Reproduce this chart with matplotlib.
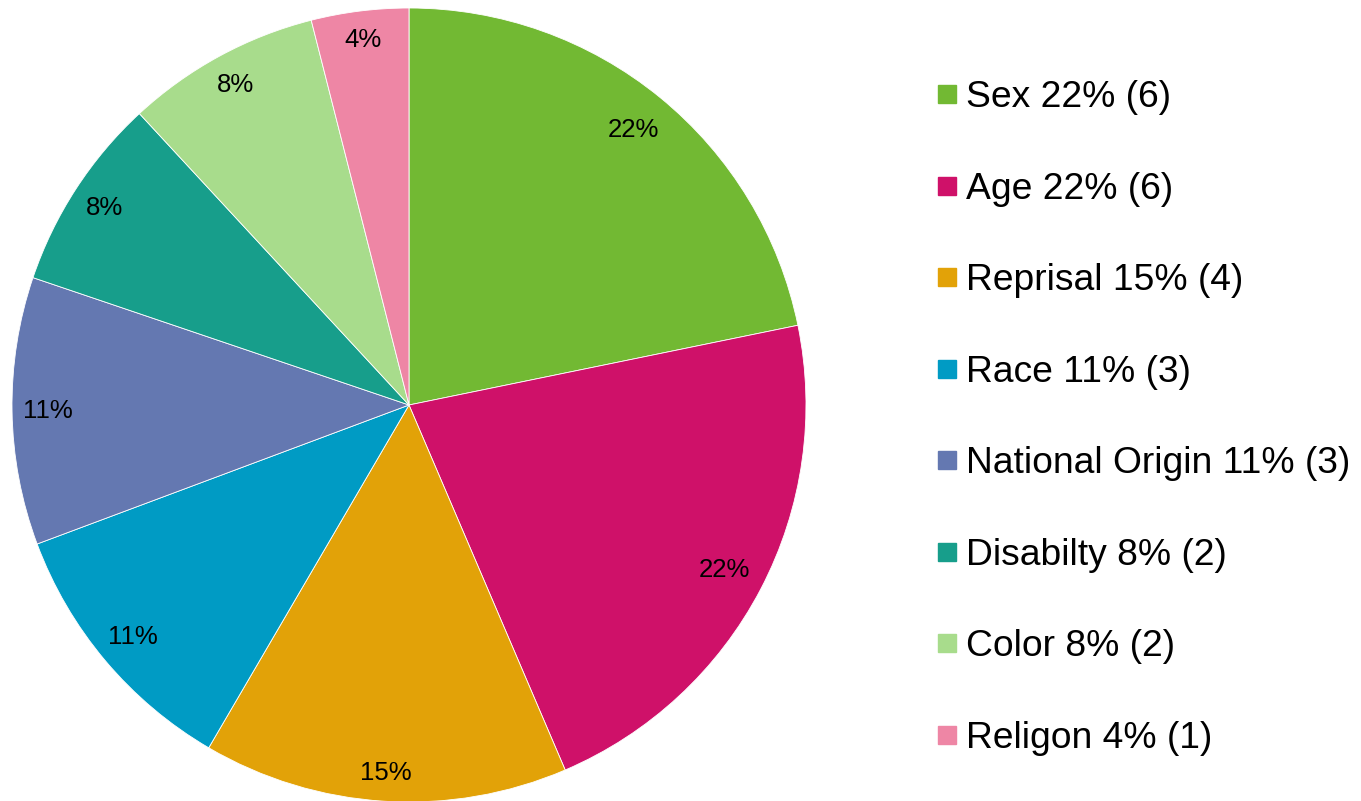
import numpy as np
import matplotlib.pyplot as plt
from matplotlib.lines import Line2D

plt.rcParams['font.family'] = ['Liberation Sans', 'DejaVu Sans']

categories = ['Sex', 'Age', 'Reprisal', 'Race', 'National Origin', 'Disabilty', 'Color', 'Religon']
counts = [6, 6, 4, 3, 3, 2, 2, 1]
percents = [22, 22, 15, 11, 11, 8, 8, 4]
colors = ['#72B933', '#CF1169', '#E2A208', '#009BC4', '#6478B1', '#179E8B', '#A8DC8C', '#EE86A5']

# how far out (fraction of radius) each slice label sits
label_dist = [0.893, 0.896, 0.93, 0.909, 0.91, 0.914, 0.917, 0.927]

W, H = 1361, 801
fig = plt.figure(figsize=(W / 100, H / 100), dpi=100)

# pie centre and radius in pixels
cx, cy, r = 409, 405, 397
ax = fig.add_axes([(cx - r) / W, (H - cy - r) / H, 2 * r / W, 2 * r / H])

pct_labels = [f'{p}%' for p in percents]
wedges, texts = ax.pie(percents, colors=colors, startangle=90, counterclock=False,
                       labels=pct_labels, labeldistance=0.89,
                       wedgeprops=dict(edgecolor='white', linewidth=0.6),
                       textprops=dict(fontsize=18.5, color='black'))
for w, t, d in zip(wedges, texts, label_dist):
    ang = np.deg2rad((w.theta1 + w.theta2) / 2)
    t.set_position((d * np.cos(ang), d * np.sin(ang)))
    t.set_ha('center')
    t.set_va('center')
ax.set_xlim(-1, 1)
ax.set_ylim(-1, 1)
ax.set_aspect('equal')

handles = [Line2D([], [], marker='s', linestyle='none', markersize=13,
                  markerfacecolor=c, markeredgecolor=c) for c in colors]
leg_labels = [f'{c} {p}% ({n})' for c, p, n in zip(categories, percents, counts)]
fig.legend(handles, leg_labels, loc='upper left',
           bbox_to_anchor=(938 / W, 1 - 80 / H), frameon=False,
           fontsize=26.8, handlelength=0.5, handletextpad=0.25,
           borderpad=0, borderaxespad=0, labelspacing=1.52)

fig.savefig('out.png', dpi=100)
